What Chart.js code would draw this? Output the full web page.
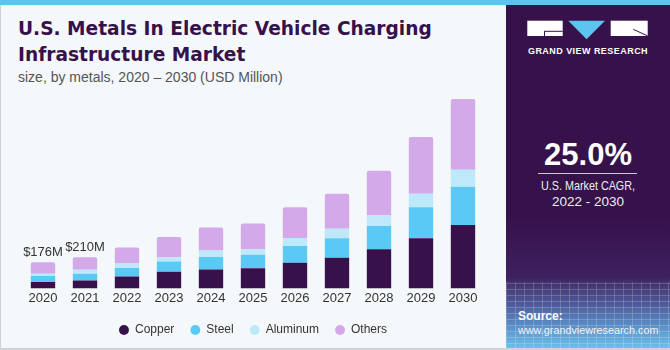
<!DOCTYPE html>
<html>
<head>
<meta charset="utf-8">
<script src="https://cdn.jsdelivr.net/npm/chart.js@4.4.0/dist/chart.umd.min.js"></script>
<style>
  body { margin: 0; background: #fff; }
  #wrap { position: relative; width: 670px; height: 350px; background: #f4f8fb; overflow: hidden;
          font-family: "Liberation Sans", Arial, sans-serif; }
  #topbar { position: absolute; left: 0; top: 0; width: 670px; height: 5px; background: #5cc4ee; z-index: 5; }
  #lborder { position: absolute; left: 0; top: 0; width: 1px; height: 350px; background: #cfd3d6; z-index: 4; }
  #bborder { position: absolute; left: 0; top: 348px; width: 670px; height: 2px; background: #cfd3d6; z-index: 4; }
  #title { position: absolute; left: 18px; top: 16px; margin: 0; font: bold 18.6px/26px "DejaVu Sans", sans-serif;
           color: #371149; white-space: nowrap; }
  #subtitle { position: absolute; left: 18px; top: 69px; font-size: 14px; line-height: 16px; color: #555; white-space: nowrap; }
  #chartBox { position: absolute; left: 0; top: 0; width: 500px; height: 350px; }
  #panel { position: absolute; left: 506px; top: 0; width: 164px; height: 350px;
           background: linear-gradient(to bottom, #371149 0px, #371149 215px, #3d2160 278px, #44306d 282px, #4f5c9c 305px, #5f9dd3 332px, #6cc3ee 350px); }
  #mesh { position: absolute; left: 0; top: 282px; width: 164px; height: 68px; opacity: 0.35;
          background:
            repeating-linear-gradient(90deg, rgba(255,255,255,0.55) 0 1px, transparent 1px 9px),
            repeating-linear-gradient(0deg, rgba(255,255,255,0.55) 0 1px, transparent 1px 6px); }
  .ptext { position: absolute; left: 0; width: 164px; text-align: center; color: #fff; white-space: nowrap; }
  #brand { top: 45px; font-weight: bold; font-size: 9px; line-height: 12px; letter-spacing: 0.45px; }
  #cagr { top: 137px; font-weight: bold; font-size: 31px; line-height: 36px; }
  #rule { position: absolute; left: 32px; top: 173px; width: 99px; height: 1px; background: #cdc4d6; }
  #cagr1 { top: 178px; font-size: 13px; line-height: 16px; transform: scaleX(0.83); color: #eee; }
  #cagr2 { top: 194px; font-size: 13.5px; line-height: 16px; color: #eee; }
  #src1 { left: 12px; width: auto; text-align: left; top: 309px; font-weight: bold; font-size: 12px; line-height: 14px; }
  #src2 { left: 12px; width: auto; text-align: left; top: 323px; font-size: 10.8px; line-height: 14px; color: #f2f2f2; }
</style>
</head>
<body>
<div id="wrap">
  <div id="topbar"></div>
  <div id="lborder"></div>
  <div id="bborder"></div>
  <div id="title">U.S. Metals In Electric Vehicle Charging<br>Infrastructure Market</div>
  <div id="subtitle">size, by metals, 2020 – 2030 (USD Million)</div>
  <div id="chartBox"><canvas id="chart"></canvas></div>
  <div id="panel">
    <div id="mesh"></div>
    <svg style="position:absolute;left:14px;top:10px" width="140" height="40" viewBox="0 0 140 40">
      <rect x="7.3" y="10.7" width="35.4" height="15.3" fill="#fff"/>
      <path d="M24 21.3 H42.7 M24.5 21.3 V26" stroke="#371149" stroke-width="1" fill="none"/>
      <polygon points="48.3,10.7 85,10.7 66.6,29.3" fill="#5cc4ee"/>
      <rect x="90.7" y="10.7" width="37" height="15.3" fill="#fff"/>
      <path d="M113.3 19.3 L127.7 26" stroke="#371149" stroke-width="1" fill="none"/>
    </svg>
    <div class="ptext" id="brand">GRAND VIEW RESEARCH</div>
    <div class="ptext" id="cagr">25.0%</div>
    <div id="rule"></div>
    <div class="ptext" id="cagr1">U.S. Market CAGR,</div>
    <div class="ptext" id="cagr2">2022 - 2030</div>
    <div class="ptext" id="src1">Source:</div>
    <div class="ptext" id="src2">www.grandviewresearch.com</div>
  </div>
</div>
<script>
const years = ['2020', '2021', '2022', '2023', '2024', '2025', '2026', '2027', '2028', '2029', '2030'];
const copper = [42.5, 54, 81, 112, 128, 135, 173, 207, 263, 338, 427];
const steel = [40.5, 45, 56, 70, 83, 92, 113, 131, 157, 209, 257];
const aluminum = [16, 27, 30, 29, 45, 38, 54, 63, 74, 90, 115];
const others = [77, 84, 108, 135, 155, 173, 207, 236, 299, 383, 477];
const labeledYears = [0, 1]; // only 2020 and 2021 carry a total

const font = '"Liberation Sans", Arial, sans-serif';

// writes the stack total above the chosen bars
const totalsPlugin = {
  id: 'totals',
  afterDatasetsDraw(chart) {
    const { ctx, scales: { x, y } } = chart;
    ctx.save();
    ctx.font = '13px ' + font;
    ctx.fillStyle = '#333';
    ctx.textAlign = 'center';
    ctx.textBaseline = 'bottom';
    labeledYears.forEach(i => {
      const total = copper[i] + steel[i] + aluminum[i] + others[i];
      ctx.fillText('$' + Math.round(total) + 'M', x.getPixelForValue(i), y.getPixelForValue(total) - 3);
    });
    ctx.restore();
  }
};

new Chart(document.getElementById('chart'), {
  type: 'bar',
  data: {
    labels: years,
    datasets: [
      { label: 'Copper', data: copper, backgroundColor: '#371149' },
      { label: 'Steel', data: steel, backgroundColor: '#5bc9f5' },
      { label: 'Aluminum', data: aluminum, backgroundColor: '#bde9fa' },
      { label: 'Others', data: others, backgroundColor: '#d4a9ea', borderRadius: { topLeft: 2, topRight: 2 } }
    ]
  },
  options: {
    responsive: true,
    maintainAspectRatio: false,
    animation: false,
    datasets: { bar: { categoryPercentage: 1, barPercentage: 0.58 } },
    layout: { padding: { left: 22, right: 16, top: 88, bottom: 4 } },
    scales: {
      x: {
        stacked: true,
        grid: { display: false, drawTicks: false },
        border: { display: false },
        ticks: { color: '#333', padding: 2, font: { family: font, size: 13 } }
      },
      y: { stacked: true, display: false, min: 0, max: 1350 }
    },
    plugins: {
      tooltip: { enabled: false },
      legend: {
        position: 'bottom',
        labels: {
          usePointStyle: true, pointStyle: 'circle', boxWidth: 10, boxHeight: 7, padding: 16,
          color: '#333', font: { family: font, size: 12 }
        }
      }
    }
  },
  plugins: [totalsPlugin]
});
</script>
</body>
</html>
